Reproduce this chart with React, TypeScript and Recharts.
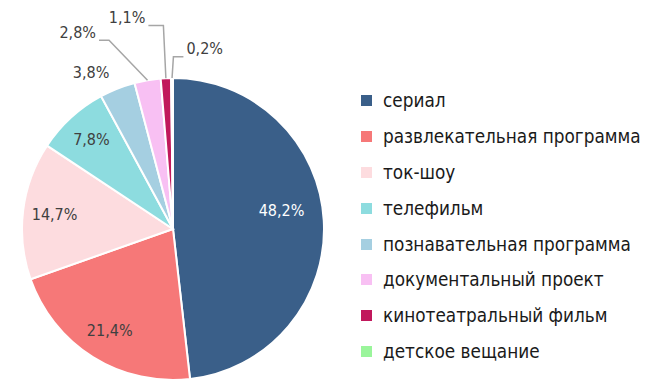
import { Legend, Pie, PieChart, Cell } from 'recharts'

const categories = [
  'сериал',
  'развлекательная программа',
  'ток-шоу',
  'телефильм',
  'познавательная программа',
  'документальный проект',
  'кинотеатральный фильм',
  'детское вещание',
]

const shares = [48.2, 21.4, 14.7, 7.8, 3.8, 2.8, 1.1, 0.2, 0]

const colors = [
  '#3a5f89',
  '#f67878',
  '#fddcdf',
  '#8ddcdf',
  '#a5cfe1',
  '#f8c0f3',
  '#c1185c',
  '#9af59b',
]

const FONT = '"Liberation Sans Narrow", "DejaVu Sans Condensed", sans-serif'
const RAD = Math.PI / 180

// label placement per slice: r = radius factor, shift = angle shift,
// leader = elbow (radius factor, angle shift, horizontal run)
const labelLayout: any[] = [
  { r: 0.72, dy: -12, color: '#ffffff' },
  { r: 0.79 },
  { r: 0.79 },
  { r: 0.8 },
  { r: 1.17, shift: 6 },
  { leader: { r: 1.32, shift: 9, run: -10 } },
  { leader: { r: 1.35, shift: 0, run: -15 } },
  { leader: { r: 1.14, shift: -0.5, run: 10 } },
]

const data = categories.map((name, i) => ({ name, value: shares[i] }))

function fmt(v: number) {
  return v.toFixed(1).replace('.', ',') + '%'
}

function renderLabel(props: any) {
  const { cx, cy, midAngle, outerRadius, index, value } = props
  const cfg = labelLayout[index]
  if (!cfg || !value) return null
  if (cfg.leader) {
    const sx = cx + outerRadius * Math.cos(-midAngle * RAD)
    const sy = cy + outerRadius * Math.sin(-midAngle * RAD)
    const a = midAngle + cfg.leader.shift
    const ex = cx + outerRadius * cfg.leader.r * Math.cos(-a * RAD)
    const ey = cy + outerRadius * cfg.leader.r * Math.sin(-a * RAD)
    const tx = ex + cfg.leader.run
    const right = cfg.leader.run > 0
    return (
      <g>
        <polyline
          points={`${sx},${sy} ${ex},${ey} ${tx},${ey}`}
          fill="none"
          stroke="#a6a6a6"
          strokeWidth={1.5}
        />
        <text
          x={tx + (right ? 3 : -3)}
          y={ey - 8}
          textAnchor={right ? 'start' : 'end'}
          dominantBaseline="central"
          fill="#404040"
          fontSize={16}
          fontFamily={FONT}
        >
          {fmt(value)}
        </text>
      </g>
    )
  }
  const rr = outerRadius * cfg.r
  const a = midAngle + (cfg.shift || 0)
  const x = cx + rr * Math.cos(-a * RAD) + (cfg.dx || 0)
  const y = cy + rr * Math.sin(-a * RAD) + (cfg.dy || 0)
  return (
    <text
      x={x}
      y={y}
      textAnchor="middle"
      dominantBaseline="central"
      fill={cfg.color || '#404040'}
      fontSize={16}
      fontFamily={FONT}
    >
      {fmt(value)}
    </text>
  )
}

function LegendList() {
  return (
    <div style={{ fontFamily: FONT, fontSize: 18.8, color: '#1a1a1a' }}>
      {categories.map((c, i) => (
        <div
          key={c}
          style={{ display: 'flex', alignItems: 'center', height: 35.8 }}
        >
          <span
            style={{
              width: 11,
              height: 11,
              background: colors[i],
              display: 'inline-block',
              marginRight: 11,
            }}
          />
          <span>{c}</span>
        </div>
      ))}
    </div>
  )
}

export default function App() {
  return (
    <div style={{ width: 658, height: 390, background: '#fff' }}>
      <style>{'body{margin:0}'}</style>
      <PieChart
        width={658}
        height={390}
        margin={{ top: 0, right: 0, bottom: 0, left: 0 }}
      >
        <Pie
          data={data}
          dataKey="value"
          nameKey="name"
          cx={173}
          cy={229}
          outerRadius={151}
          startAngle={90}
          endAngle={-270}
          stroke="#ffffff"
          strokeWidth={2}
          label={renderLabel}
          labelLine={false}
          isAnimationActive={false}
        >
          {data.map((d, i) => (
            <Cell key={d.name} fill={colors[i % colors.length]} />
          ))}
        </Pie>
        <Legend
          layout="vertical"
          align="right"
          verticalAlign="top"
          content={() => <LegendList />}
          wrapperStyle={{ left: 361, top: 83, width: 297 }}
        />
      </PieChart>
    </div>
  )
}
